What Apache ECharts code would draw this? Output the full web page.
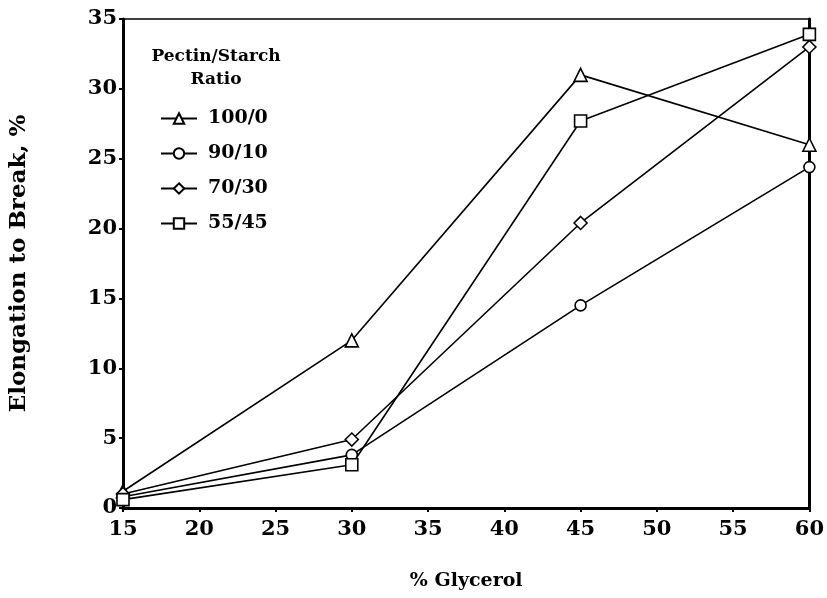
<!DOCTYPE html>
<html>
<head>
<meta charset="utf-8">
<script src="https://cdn.jsdelivr.net/npm/echarts@6/dist/echarts.min.js"></script>
<style>
  html, body { margin: 0; padding: 0; background: #fff; }
  #chart { width: 827px; height: 598px; }
</style>
</head>
<body>
<div id="chart"></div>
<script>
// Glycerol content (% of solids)
const glycerol = [15, 30, 45, 60];

// Elongation to break (%) for each pectin/starch ratio
const ratio100_0 = [1.2, 12.0, 31.0, 26.0];
const ratio90_10 = [0.8, 3.8, 14.5, 24.4];
const ratio70_30 = [1.0, 4.9, 20.4, 33.0];
const ratio55_45 = [0.6, 3.1, 27.7, 33.9];

const seriesNames = ['100/0', '90/10', '70/30', '55/45'];
const xTicks = [15, 20, 25, 30, 35, 40, 45, 50, 55, 60];
const yTicks = [0, 5, 10, 15, 20, 25, 30, 35];

const FONT = 'DejaVu Serif';

function pairs(ys) {
  return glycerol.map((x, i) => [x, ys[i]]);
}

function makeSeries(name, ys, symbol, size) {
  return {
    name: name,
    type: 'line',
    data: pairs(ys),
    symbol: symbol,
    symbolSize: size,
    showAllSymbol: true,
    lineStyle: { color: '#000', width: 1.6 },
    itemStyle: { color: '#fff', borderColor: '#000', borderWidth: 1.6 },
    emphasis: { disabled: true },
    z: 3
  };
}

const chart = echarts.init(document.getElementById('chart'), null, { renderer: 'canvas' });

chart.setOption({
  animation: false,
  backgroundColor: '#fff',
  grid: {
    left: 121, right: 17, top: 19, bottom: 90,
    show: true, borderColor: '#000', borderWidth: 1.5,
    backgroundColor: 'transparent'
  },
  title: {
    text: 'Pectin/Starch\nRatio',
    left: 211, top: 40,
    textAlign: 'center',
    textStyle: { fontFamily: FONT, fontWeight: 'bold', fontSize: 17, lineHeight: 23, color: '#000' }
  },
  legend: {
    data: seriesNames,
    orient: 'vertical',
    left: 155, top: 104,
    itemWidth: 36, itemHeight: 13, itemGap: 16,
    textStyle: { fontFamily: FONT, fontWeight: 'bold', fontSize: 19, color: '#000', padding: [0, 0, 0, 6] },
    selectedMode: false
  },
  xAxis: {
    type: 'value',
    min: 15, max: 60, interval: 5,
    name: '% Glycerol',
    nameLocation: 'middle',
    nameGap: 64,
    nameTextStyle: { fontFamily: FONT, fontWeight: 'bold', fontSize: 19, color: '#000' },
    axisLine: { show: true, onZero: false, lineStyle: { color: '#000', width: 3 } },
    axisTick: { show: true, length: 4, lineStyle: { color: '#000', width: 2 } },
    axisLabel: {
      fontFamily: FONT, fontWeight: 'bold', fontSize: 21, color: '#000', margin: 11,
      formatter: v => xTicks.includes(v) ? String(v) : ''
    },
    splitLine: { show: false }
  },
  yAxis: [{
    type: 'value',
    min: 0, max: 35, interval: 5,
    name: 'Elongation to Break, %',
    nameLocation: 'middle',
    nameGap: 92,
    nameRotate: 90,
    nameTextStyle: { fontFamily: FONT, fontWeight: 'bold', fontSize: 23, color: '#000' },
    axisLine: { show: true, onZero: false, lineStyle: { color: '#000', width: 3 } },
    axisTick: { show: true, length: 4, lineStyle: { color: '#000', width: 2 } },
    axisLabel: {
      fontFamily: FONT, fontWeight: 'bold', fontSize: 21, color: '#000', margin: 6,
      formatter: v => yTicks.includes(v) ? String(v) : ''
    },
    splitLine: { show: false }
  }, {
    type: 'value',
    position: 'right',
    min: 0, max: 35, interval: 5,
    axisLine: { show: true, lineStyle: { color: '#000', width: 3 } },
    axisTick: { show: false },
    axisLabel: { show: false },
    splitLine: { show: false }
  }],
  series: [
    makeSeries(seriesNames[0], ratio100_0, 'triangle', 13),
    makeSeries(seriesNames[1], ratio90_10, 'circle', 11),
    makeSeries(seriesNames[2], ratio70_30, 'diamond', 13),
    makeSeries(seriesNames[3], ratio55_45, 'rect', 12)
  ]
});
</script>
</body>
</html>
